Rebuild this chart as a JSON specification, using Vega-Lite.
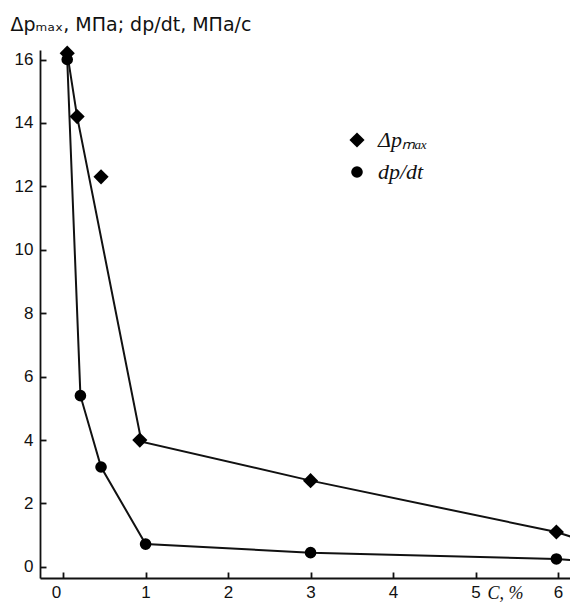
{
  "$schema": "https://vega.github.io/schema/vega-lite/v6.json",
  "width": 530,
  "height": 528,
  "autosize": "none",
  "padding": {"left": 40, "top": 50, "right": 0, "bottom": 27},
  "background": "white",
  "config": {
    "view": {"stroke": null},
    "axis": {
      "domainColor": "#111",
      "domainWidth": 1.8,
      "tickColor": "#111",
      "tickWidth": 1.8,
      "tickSize": -6,
      "grid": false,
      "labelFont": "Liberation Sans",
      "labelFontSize": 17,
      "labelColor": "#111",
      "titleFontWeight": "normal",
      "titleColor": "#111"
    },
    "legend": {
      "title": null,
      "orient": "none",
      "legendX": 306,
      "legendY": 79,
      "padding": 0,
      "symbolFillColor": "#000",
      "symbolStrokeColor": "#000",
      "labelFont": "Liberation Serif",
      "labelFontStyle": "italic",
      "labelFontSize": 22,
      "labelColor": "#111",
      "labelOffset": 10,
      "rowPadding": 10
    }
  },
  "datasets": {
    "points": [
      {"C": 0.05, "v": 16.2, "s": "Δpₘₐₓ"},
      {"C": 0.17, "v": 14.2, "s": "Δpₘₐₓ"},
      {"C": 0.46, "v": 12.3, "s": "Δpₘₐₓ"},
      {"C": 0.93, "v": 4.0, "s": "Δpₘₐₓ"},
      {"C": 3.0, "v": 2.72, "s": "Δpₘₐₓ"},
      {"C": 5.98, "v": 1.1, "s": "Δpₘₐₓ"},
      {"C": 0.05, "v": 16.0, "s": "dp/dt"},
      {"C": 0.21, "v": 5.4, "s": "dp/dt"},
      {"C": 0.46, "v": 3.15, "s": "dp/dt"},
      {"C": 1.0, "v": 0.72, "s": "dp/dt"},
      {"C": 3.0, "v": 0.45, "s": "dp/dt"},
      {"C": 5.98, "v": 0.25, "s": "dp/dt"}
    ],
    "curves": [
      {"C": 0.05, "v": 16.2, "s": "Δpₘₐₓ", "o": 1},
      {"C": 0.17, "v": 14.2, "s": "Δpₘₐₓ", "o": 2},
      {"C": 0.95, "v": 3.95, "s": "Δpₘₐₓ", "o": 3},
      {"C": 3.0, "v": 2.72, "s": "Δpₘₐₓ", "o": 4},
      {"C": 5.98, "v": 1.1, "s": "Δpₘₐₓ", "o": 5},
      {"C": 6.15, "v": 0.96, "s": "Δpₘₐₓ", "o": 6},
      {"C": 0.05, "v": 16.0, "s": "dp/dt", "o": 1},
      {"C": 0.21, "v": 5.4, "s": "dp/dt", "o": 2},
      {"C": 0.46, "v": 3.15, "s": "dp/dt", "o": 3},
      {"C": 1.0, "v": 0.72, "s": "dp/dt", "o": 4},
      {"C": 3.0, "v": 0.45, "s": "dp/dt", "o": 5},
      {"C": 5.98, "v": 0.25, "s": "dp/dt", "o": 6},
      {"C": 6.15, "v": 0.22, "s": "dp/dt", "o": 7}
    ]
  },
  "layer": [
    {
      "data": {"name": "curves"},
      "mark": {"type": "line", "color": "#111", "strokeWidth": 2, "clip": true},
      "encoding": {
        "x": {"field": "C", "type": "quantitative"},
        "y": {"field": "v", "type": "quantitative"},
        "detail": {"field": "s"},
        "order": {"field": "o"}
      }
    },
    {
      "data": {"name": "points"},
      "mark": {"type": "point", "filled": true, "color": "#000", "opacity": 1},
      "encoding": {
        "x": {
          "field": "C",
          "type": "quantitative",
          "scale": {"domain": [-0.28, 6.145], "nice": false, "zero": false},
          "axis": {
            "values": [0, 1, 2, 3, 4, 5, 6],
            "format": "d",
            "labelPadding": 12,
            "labelOffset": {"condition": {"test": "datum.value === 0", "value": -7}, "value": 0},
            "title": "C, %",
            "titleFont": "Liberation Serif",
            "titleFontStyle": "italic",
            "titleFontSize": 18,
            "titleAlign": "left",
            "titleBaseline": "alphabetic",
            "titleX": 447,
            "titleY": 20
          }
        },
        "y": {
          "field": "v",
          "type": "quantitative",
          "scale": {"domain": [-0.35, 16.3], "nice": false, "zero": false},
          "axis": {
            "values": [0, 2, 4, 6, 8, 10, 12, 14, 16],
            "labelPadding": 13,
            "title": "Δpₘₐₓ, МПа; dp/dt, МПа/с",
            "titleFont": "DejaVu Sans",
            "titleFontSize": 19,
            "titleAngle": 0,
            "titleAlign": "left",
            "titleBaseline": "alphabetic",
            "titleX": -30,
            "titleY": -20
          }
        },
        "size": {
          "field": "s",
          "type": "nominal",
          "scale": {"domain": ["Δpₘₐₓ", "dp/dt"], "range": [230, 135]}
        },
        "shape": {
          "field": "s",
          "type": "nominal",
          "scale": {"domain": ["Δpₘₐₓ", "dp/dt"], "range": ["diamond", "circle"]}
        }
      }
    }
  ]
}
